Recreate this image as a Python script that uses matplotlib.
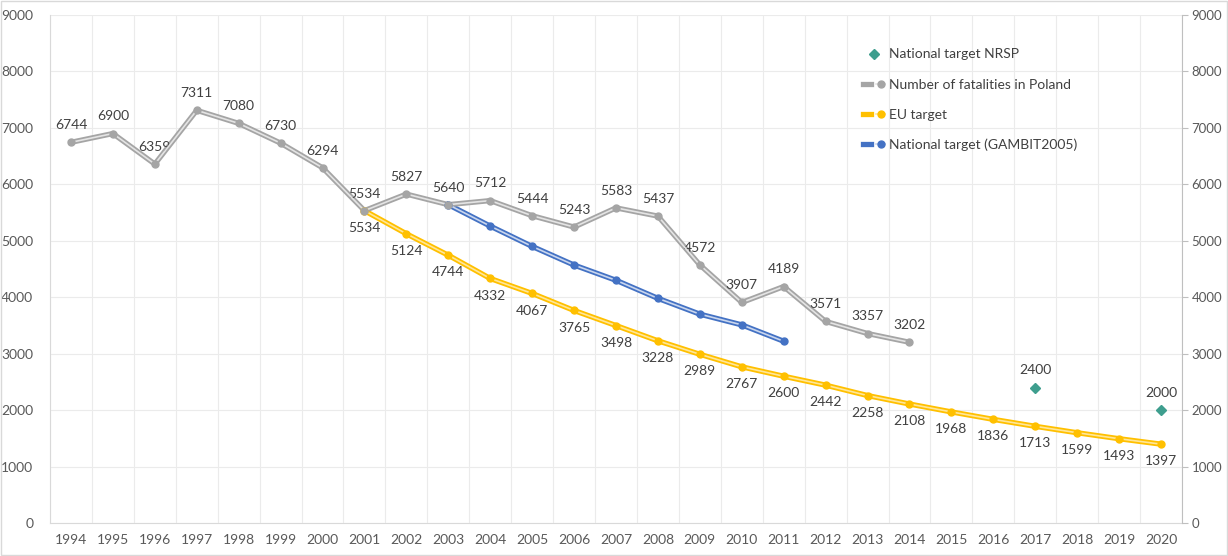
import matplotlib.pyplot as plt
from matplotlib.lines import Line2D
from matplotlib.legend_handler import HandlerTuple
from matplotlib.patches import Rectangle
import numpy as np

years = list(range(1994, 2021))

# Number of fatalities in Poland (1994-2014)
fatal_years = list(range(1994, 2015))
fatalities = [6744, 6900, 6359, 7311, 7080, 6730, 6294, 5534, 5827, 5640, 5712,
              5444, 5243, 5583, 5437, 4572, 3907, 4189, 3571, 3357, 3202]

# EU target (2001-2020)
eu_years = list(range(2001, 2021))
eu_target = [5534, 5124, 4744, 4332, 4067, 3765, 3498, 3228, 2989, 2767, 2600,
             2442, 2258, 2108, 1968, 1836, 1713, 1599, 1493, 1397]

# National target GAMBIT2005 (2003-2011), no labels in chart
gambit_years = list(range(2003, 2012))
gambit = [5640, 5260, 4900, 4570, 4300, 3980, 3700, 3510, 3220]

# National target NRSP
nrsp_years = [2017, 2020]
nrsp = [2400, 2000]

GRAY = '#A5A5A5'
GRAY_L = '#E4E4E4'
YEL = '#FFC000'
YEL_L = '#FFE699'
BLUE = '#4472C4'
BLUE_L = '#C9D6EE'
TEAL = '#3E9E8E'
TXT = '#404040'

plt.rcParams['font.family'] = ['Lato', 'DejaVu Sans']

fig = plt.figure(figsize=(12.28, 5.56), dpi=100)
ax = fig.add_axes([50 / 1228, 33 / 556, 1132 / 1228, 508 / 556])

def pos(ys):
    return [years.index(y) for y in ys]

def dbl_line(xs, vals, c, cl):
    ax.plot(xs, vals, color=c, lw=3.8, solid_joinstyle='miter', zorder=3)
    ax.plot(xs, vals, color=cl, lw=1.2, zorder=4)
    ax.plot(xs, vals, ls='none', marker='o', ms=5, color=c, mec=c, zorder=5)

x_f = pos(fatal_years)
x_eu = pos(eu_years)
x_g = pos(gambit_years)
x_n = pos(nrsp_years)

dbl_line(x_eu, eu_target, YEL, YEL_L)
dbl_line(x_g, gambit, BLUE, BLUE_L)
dbl_line(x_f, fatalities, GRAY, GRAY_L)
ax.plot(x_n, nrsp, ls='none', marker='D', ms=5.5, color=TEAL, zorder=6)

for x, v in zip(x_f, fatalities):
    ax.annotate(str(v), (x, v), xytext=(0, 8), textcoords='offset points',
                ha='center', va='bottom', fontsize=10, color=TXT)
for x, v in zip(x_eu, eu_target):
    ax.annotate(str(v), (x, v), xytext=(0, -8), textcoords='offset points',
                ha='center', va='top', fontsize=10, color=TXT)
for x, v in zip(x_n, nrsp):
    ax.annotate(str(v), (x, v), xytext=(0, 8), textcoords='offset points',
                ha='center', va='bottom', fontsize=10, color=TXT)

ax.set_xlim(-0.5, len(years) - 0.5)
ax.set_ylim(0, 9000)
ax.set_yticks(np.arange(0, 9001, 1000))
ax.set_xticks(range(len(years)))
ax.set_xticklabels([str(y) for y in years])
ax.set_xticks(np.arange(-0.5, len(years), 1), minor=True)
ax.grid(which='minor', axis='x', color='#EBEBEB', lw=0.8)
ax.grid(which='major', axis='y', color='#EBEBEB', lw=0.8)
ax.tick_params(axis='both', which='both', length=0, colors='#595959', labelsize=10)
ax.tick_params(axis='x', pad=8)
ax.tick_params(axis='y', pad=12)
for s in ['top', 'right']:
    ax.spines[s].set_visible(False)
for s in ['left', 'bottom']:
    ax.spines[s].set_color('#D9D9D9')
ax.set_axisbelow(True)

ax2 = ax.twinx()
ax2.set_ylim(0, 9000)
ax2.set_yticks(np.arange(0, 9001, 1000))
ax2.tick_params(axis='y', length=4, color='#BFBFBF', colors='#595959', labelsize=9.5, pad=3)
for s in ['top', 'left', 'bottom']:
    ax2.spines[s].set_visible(False)
ax2.spines['right'].set_color('#BFBFBF')

def dbl_handle(c, cl):
    return (Line2D([], [], color=c, lw=3.8),
            Line2D([], [], color=cl, lw=1.2, marker='o', ms=5, mfc=c, mec=c))

handles = [Line2D([], [], ls='none', marker='D', ms=5.5, color=TEAL),
           dbl_handle(GRAY, GRAY_L),
           dbl_handle(YEL, YEL_L),
           dbl_handle(BLUE, BLUE_L)]
labels = ['National target NRSP', 'Number of fatalities in Poland',
          'EU target', 'National target (GAMBIT2005)']
leg = ax.legend(handles, labels, handler_map={tuple: HandlerTuple(ndivide=None)},
                loc='upper left', bbox_to_anchor=(850 / 1228, 1 - 36 / 556),
                bbox_transform=fig.transFigure, frameon=False, fontsize=10,
                labelspacing=1.3, handlelength=1.6, handletextpad=0.3)
for t in leg.get_texts():
    t.set_color(TXT)

fig.patches.append(Rectangle((0.001, 0.002), 0.998, 0.996, transform=fig.transFigure,
                             fill=False, ec='#D9D9D9', lw=1))

fig.savefig('out.png', dpi=100)
